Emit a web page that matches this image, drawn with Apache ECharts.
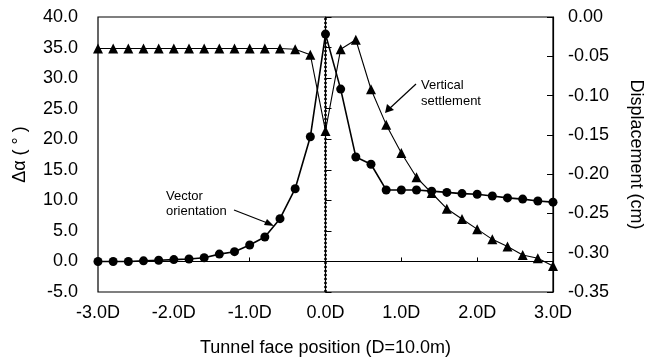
<!DOCTYPE html>
<html>
<head>
<meta charset="utf-8">
<script src="https://cdn.jsdelivr.net/npm/echarts@6/dist/echarts.min.js"></script>
<style>
  html, body { margin: 0; padding: 0; background: #fff; }
  #chart { width: 646px; height: 360px; }
</style>
</head>
<body>
<div id="chart"></div>
<script>
// Tunnel face positions, in tunnel diameters D (every 0.2D)
const positions = [-3.0, -2.8, -2.6, -2.4, -2.2, -2.0, -1.8, -1.6, -1.4, -1.2, -1.0,
  -0.8, -0.6, -0.4, -0.2, 0.0, 0.2, 0.4, 0.6, 0.8, 1.0,
  1.2, 1.4, 1.6, 1.8, 2.0, 2.2, 2.4, 2.6, 2.8, 3.0];

// Change of displacement vector orientation, Δα (degrees) — left axis
const vectorOrientation = [0.0, 0.0, 0.0, 0.1, 0.2, 0.3, 0.4, 0.6, 1.2, 1.6, 2.7,
  4.0, 7.0, 11.9, 20.4, 37.2, 28.2, 17.1, 15.9, 11.7, 11.7,
  11.7, 11.5, 11.3, 11.1, 11.0, 10.7, 10.4, 10.2, 9.9, 9.7];

// Vertical settlement (cm) — right axis
const verticalSettlement = [-0.040, -0.040, -0.040, -0.040, -0.040, -0.040, -0.040, -0.040, -0.040, -0.040, -0.040,
  -0.040, -0.040, -0.041, -0.048, -0.145, -0.041, -0.029, -0.092, -0.137, -0.173,
  -0.204, -0.224, -0.244, -0.257, -0.270, -0.283, -0.292, -0.303, -0.307, -0.317];

const font = 'Liberation Sans, Arial, Helvetica, sans-serif';

const chart = echarts.init(document.getElementById('chart'));

chart.setOption({
  backgroundColor: '#fff',
  animation: false,
  grid: {
    left: 98, right: 93, top: 17, bottom: 68,
    containLabel: false,
    outerBoundsMode: 'none',
    show: true, borderColor: '#000', borderWidth: 1.2
  },
  xAxis: {
    type: 'value',
    min: -3, max: 3, interval: 1,
    name: 'Tunnel face position (D=10.0m)',
    nameLocation: 'middle',
    nameGap: 47,
    nameTextStyle: { fontFamily: font, fontSize: 18, color: '#000' },
    axisLine: { lineStyle: { color: '#000', width: 1.2 } },
    axisTick: { inside: true, length: 4, lineStyle: { color: '#000' } },
    axisLabel: {
      fontFamily: font, fontSize: 18, color: '#000', margin: 12,
      formatter: v => v.toFixed(1) + 'D'
    },
    splitLine: { show: false }
  },
  yAxis: [
    {
      type: 'value',
      min: -5, max: 40, interval: 5,
      name: 'Δα ( ° )',
      nameLocation: 'middle',
      nameGap: 69,
      nameTextStyle: { fontFamily: font, fontSize: 18, color: '#000' },
      axisLine: { show: true, lineStyle: { color: '#000', width: 1.2 } },
      axisTick: { show: true, inside: true, length: 6, lineStyle: { color: '#000' } },
      axisLabel: {
        fontFamily: font, fontSize: 18, color: '#000', margin: 20,
        formatter: v => v.toFixed(1)
      },
      splitLine: { show: false }
    },
    {
      type: 'value',
      min: -0.35, max: 0, interval: 0.05,
      name: 'Displacement (cm)',
      nameLocation: 'middle',
      nameGap: 74,
      nameRotate: -90,
      nameTextStyle: { fontFamily: font, fontSize: 18, color: '#000' },
      axisLine: { show: true, lineStyle: { color: '#000', width: 1.2 } },
      axisTick: { show: true, inside: true, length: 6, lineStyle: { color: '#000' } },
      axisLabel: {
        fontFamily: font, fontSize: 18, color: '#000', margin: 15,
        formatter: v => v.toFixed(2)
      },
      splitLine: { show: false }
    }
  ],
  series: [
    {
      name: 'Vector orientation',
      type: 'line',
      yAxisIndex: 0,
      data: positions.map((x, i) => [x, vectorOrientation[i]]),
      symbol: 'circle',
      symbolSize: 9,
      itemStyle: { color: '#000' },
      lineStyle: { color: '#000', width: 1.6 },
      z: 3,
      markLine: {
        silent: true,
        symbol: 'none',
        label: { show: false },
        lineStyle: { color: '#000', type: [2, 2], width: 2.5 },
        data: [{ xAxis: 0 }]
      }
    },
    {
      name: 'Vertical settlement',
      type: 'line',
      yAxisIndex: 1,
      data: positions.map((x, i) => [x, verticalSettlement[i]]),
      symbol: 'triangle',
      symbolSize: 10,
      itemStyle: { color: '#000' },
      lineStyle: { color: '#000', width: 1.1 },
      z: 4
    }
  ],
  graphic: [
    {
      type: 'text', left: 166, top: 189,
      style: { text: 'Vector\norientation', fontFamily: font, fontSize: 13, lineHeight: 15, fill: '#000' }
    },
    {
      type: 'line',
      shape: { x1: 234, y1: 210, x2: 270, y2: 224 },
      style: { stroke: '#000', lineWidth: 1.2 }
    },
    {
      type: 'polygon',
      shape: { points: [[274, 226], [264, 225], [267, 219]] },
      style: { fill: '#000' }
    },
    {
      type: 'text', left: 421, top: 77,
      style: { text: 'Vertical\nsettlement', fontFamily: font, fontSize: 13, lineHeight: 16, fill: '#000' }
    },
    {
      type: 'line',
      shape: { x1: 416, y1: 84, x2: 389, y2: 109 },
      style: { stroke: '#000', lineWidth: 1.2 }
    },
    {
      type: 'polygon',
      shape: { points: [[385, 113], [387, 104], [394, 110]] },
      style: { fill: '#000' }
    }
  ]
});
</script>
</body>
</html>
